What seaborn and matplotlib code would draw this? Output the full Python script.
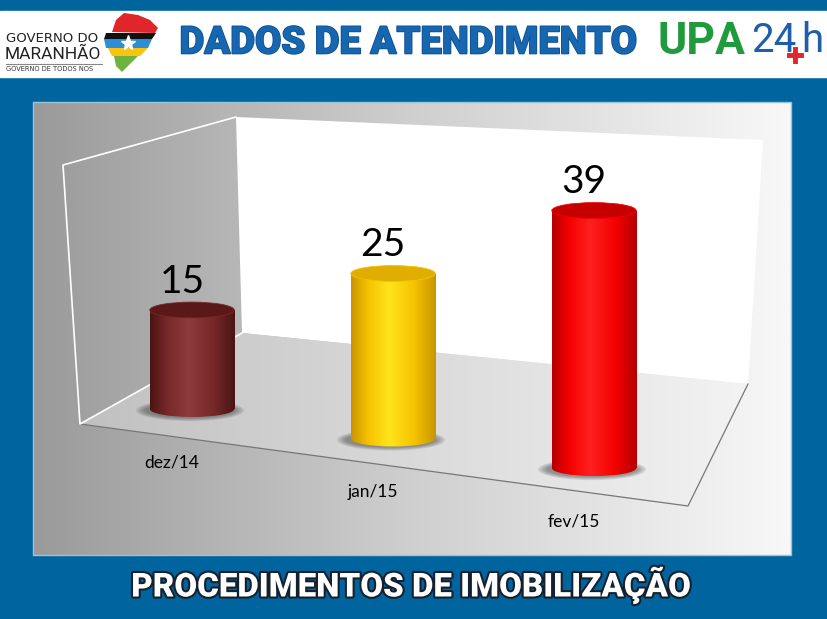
import numpy as np
import matplotlib
matplotlib.use("Agg")
import matplotlib.pyplot as plt
import matplotlib.patheffects as pe
from matplotlib.colors import LinearSegmentedColormap
from matplotlib.patches import Ellipse, Polygon, Rectangle
import seaborn as sns

# chart data
months = ["dez/14", "jan/15", "fev/15"]
values = [15, 25, 39]

# cylinder colours (edge shade, body, highlight, top cap)
edge_colors = ["#4a1414", "#c99500", "#b30000"]
bar_colors = ["#772828", "#f5c200", "#f40000"]
light_colors = ["#8e3c3c", "#ffe41c", "#ff2020"]
top_colors = ["#5a1818", "#e0ae00", "#c60000"]

title = "DADOS DE ATENDIMENTO"
footer = "PROCEDIMENTOS DE IMOBILIZAÇÃO"

W, H = 827, 619
BLUE = "#00659f"

fig = plt.figure(figsize=(W / 100, H / 100), dpi=100, facecolor=BLUE)

# background axes in pixel coordinates (y down)
bg = fig.add_axes([0, 0, 1, 1], zorder=0)
bg.set_facecolor(BLUE)

# white header band
bg.add_patch(Rectangle((0, 11), W, 66, color="white", zorder=1))

# grey gradient panel
grad = np.linspace(0, 1, 256).reshape(1, -1)
panel_cmap = LinearSegmentedColormap.from_list("panel", ["#9a9a9a", "#cfcfcf", "#f8f8f8"])
bg.imshow(grad, extent=[33, 791, 555, 102], cmap=panel_cmap, aspect="auto", zorder=2)
bg.add_patch(Rectangle((33, 102), 758, 453, fill=False, edgecolor="#9cc3dc", lw=1, zorder=2))

# 3d frame: left wall, back wall, floor
A, B, C, D = (63, 165), (236, 117), (242, 333), (80, 424)
E, F, G = (763, 140), (748, 384), (688, 506)
bg.add_patch(Polygon([B, E, F, C], closed=True, facecolor="white", edgecolor="none", zorder=3))
floor = Polygon([D, C, F, G], closed=True, facecolor="none", edgecolor="none", zorder=3)
bg.add_patch(floor)
floor_cmap = LinearSegmentedColormap.from_list("floor", ["#c0c0c0", "#dadada", "#f3f3f3"])
fim = bg.imshow(grad, extent=[80, 748, 506, 333], cmap=floor_cmap, aspect="auto", zorder=3)
fim.set_clip_path(floor)
bg.plot([D[0], G[0], F[0]], [D[1], G[1], F[1]], color="#777777", lw=0.9, zorder=4)
bg.plot([B[0], A[0], D[0], C[0]], [B[1], A[1], D[1], C[1]], color="white", lw=1.2, zorder=4)

# header texts
bg.text(409, 43, title, ha="center", va="center", fontsize=27.5, fontweight="black",
        family="Roboto", color="#1766b0",
        path_effects=[pe.withStroke(linewidth=1.2, foreground="#0e4f8e")], zorder=5)
bg.text(410, 585, footer, ha="center", va="center", fontsize=23.8, fontweight="black",
        family="Roboto", color="white",
        path_effects=[pe.withStroke(linewidth=3, foreground="#15202e")], zorder=5)

# left logo (Governo do Maranhão)
bg.text(6, 39, "GOVERNO DO", ha="left", va="center", fontsize=9.5, family="DejaVu Sans",
        color="#222222", zorder=5)
bg.text(5, 54, "MARANHÃO", ha="left", va="center", fontsize=12.5,
        family="Roboto", color="#222222", zorder=5)
bg.plot([6, 102], [64, 64], color="#888888", lw=0.8, zorder=5)
bg.text(6, 69, "GOVERNO DE TODOS NÓS", ha="left", va="center", fontsize=4.8,
        family="DejaVu Sans", color="#333333", zorder=5)
bg.add_patch(Polygon([(112, 32), (116, 20), (124, 13), (138, 15), (150, 20), (158, 28), (155, 33)],
                     closed=True, color="#e0262a", lw=0, zorder=5))
bg.add_patch(Polygon([(106, 33), (156, 33), (152, 39), (104, 39)], closed=True, color="#111111", lw=0, zorder=5))
bg.add_patch(Polygon([(104, 39), (152, 39), (148, 48), (106, 48)], closed=True, color="#2a8fd6", lw=0, zorder=5))
bg.plot([128], [43], marker="*", ms=11, color="white", mec="white", zorder=6)
bg.add_patch(Polygon([(108, 48), (148, 48), (140, 56), (112, 56)], closed=True, color="#f7c410", lw=0, zorder=5))
bg.add_patch(Polygon([(114, 56), (138, 56), (128, 66), (122, 72), (116, 66)], closed=True, color="#6db33f", lw=0, zorder=5))

# right logo (UPA 24h)
bg.text(658, 42, "UPA", ha="left", va="center", fontsize=32, fontweight="bold",
        family="Roboto", color="#1f9a3c", zorder=5)
bg.text(751, 40, "24", ha="left", va="center", fontsize=29,
        family="Roboto", color="#1d5fa8", zorder=5)
bg.text(823, 40, "h", ha="right", va="center", fontsize=29,
        family="Roboto", color="#1d5fa8", zorder=5)
bg.plot([795], [55], marker="P", ms=13, color="#e0262a", mec="white", mew=0.8, zorder=6)

bg.set_xlim(0, W)
bg.set_ylim(H, 0)
bg.axis("off")

# chart axes over the panel
ax = fig.add_axes([33 / W, 1 - 555 / H, 758 / W, 453 / H], zorder=2)
ax.patch.set_alpha(0)
sns.barplot(x=months, y=values, hue=months, palette=bar_colors, width=0.42,
            legend=False, ax=ax)

slope = 4.47   # floor drop per category (perspective)
cap = 2.4      # cap ellipse height in data units

bars = sorted(ax.patches, key=lambda p: p.get_x())
for i, p in enumerate(bars):
    x0, w, h = p.get_x(), p.get_width(), p.get_height()
    base = -slope * i
    cx = x0 + w / 2
    p.set_y(base)
    p.set_facecolor("none")
    p.set_edgecolor("none")

    # soft shadow on the floor
    for k in range(5):
        ax.add_patch(Ellipse((cx - 0.01, base - 0.2), w * (1.28 - 0.05 * k), cap * (1.35 - 0.1 * k),
                             color="#3a3a3a", alpha=0.12, lw=0, zorder=1))

    cmap = LinearSegmentedColormap.from_list(
        "cyl%d" % i,
        [(0, edge_colors[i]), (0.2, bar_colors[i]), (0.45, light_colors[i]),
         (0.75, bar_colors[i]), (1, edge_colors[i])])
    bottom = Ellipse((cx, base), w, cap, facecolor="none", edgecolor="none")
    ax.add_patch(bottom)
    for clip in (p, bottom):
        im = ax.imshow(grad, extent=[x0, x0 + w, base - cap, base + h], cmap=cmap,
                       aspect="auto", zorder=2)
        im.set_clip_path(clip)

    # top cap
    ax.add_patch(Ellipse((cx, base + h), w, cap, facecolor=top_colors[i],
                         edgecolor=bar_colors[i], lw=0.6, zorder=3))

    ax.text(cx - 0.05, base + h + cap / 2 + 1.4, str(values[i]), ha="center",
            va="baseline", fontsize=28, family="Lato", color="black", zorder=4)
    ax.text(cx - 0.1, base - 8.1, months[i], ha="center", va="center",
            fontsize=12.5, family="Lato", color="black", zorder=4)

ax.set_xlim(-0.791, 2.98)
ax.set_ylim(-22.1, 46.5)
ax.axis("off")

fig.savefig("out.png", dpi=100, facecolor=BLUE)
